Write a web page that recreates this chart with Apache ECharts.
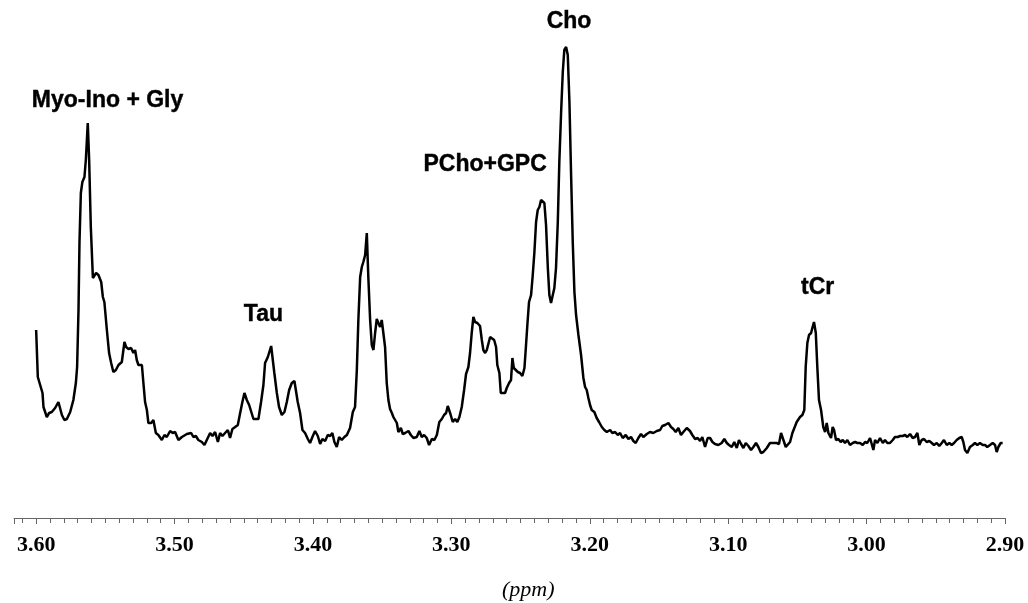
<!DOCTYPE html>
<html>
<head>
<meta charset="utf-8">
<title>Spectrum</title>
<script src="https://cdn.jsdelivr.net/npm/echarts@6/dist/echarts.min.js"></script>
<style>
	html, body { margin: 0; padding: 0; background: #fff; }
	#spectrum { width: 1028px; height: 603px; }
</style>
</head>
<body>
<div id="spectrum"></div>
<script>
// chemical shift (ppm)
var shiftPpm = [
	3.6000,3.5988,3.5971,3.5954,3.5947,3.5923,3.5906,3.5887,3.5863,3.5839,3.5827,3.5814,3.5796,3.5778,3.5754,3.5731,3.5713,3.5704,3.5694,3.5687,
	3.5677,3.5666,3.5651,3.5641,3.5627,3.5617,3.5605,3.5590,3.5579,3.5567,3.5550,3.5530,3.5518,3.5507,3.5489,3.5473,3.5458,3.5442,3.5424,3.5405,
	3.5381,3.5362,3.5350,3.5333,3.5314,3.5297,3.5285,3.5273,3.5261,3.5249,3.5236,3.5225,3.5213,3.5200,3.5189,3.5169,3.5153,3.5135,3.5117,3.5092,
	3.5073,3.5056,3.5032,3.5013,3.4996,3.4972,3.4947,3.4911,
	3.4900,3.4880,3.4864,3.4846,3.4828,3.4803,3.4784,3.4767,3.4743,3.4726,3.4707,3.4687,3.4671,3.4654,3.4635,3.4615,3.4599,3.4582,3.4562,3.4543,
	3.4526,3.4510,3.4495,3.4478,3.4461,3.4447,3.4430,3.4413,3.4394,3.4375,3.4358,3.4346,3.4326,3.4302,3.4293,3.4279,3.4261,3.4245,3.4225,3.4206,
	3.4189,3.4172,3.4153,3.4134,3.4122,3.4110,3.4093,3.4076,3.4057,3.4037,3.4021,3.4004,3.3985,3.3965,3.3948,3.3932,3.3912,3.3893,3.3876,3.3860,
	3.3845,3.3828,3.3811,3.3792,3.3773,
	3.3755,3.3732,3.3712,3.3696,3.3683,3.3672,3.3659,3.3647,3.3636,3.3623,3.3611,3.3600,3.3587,3.3575,3.3563,3.3551,3.3539,3.3527,3.3515,3.3503,
	3.3491,3.3479,3.3467,3.3455,3.3443,3.3430,3.3419,3.3407,3.3394,3.3383,3.3365,3.3351,3.3334,3.3310,3.3293,3.3274,3.3250,3.3231,3.3214,3.3197,
	3.3178,3.3161,3.3141,3.3123,3.3105,3.3087,3.3069,3.3053,3.3038,3.3026,3.3009,3.2990,3.2973,3.2957,3.2942,3.2925,3.2908,3.2894,3.2877,3.2865,
	3.2853,3.2841,3.2829,3.2812,3.2793,3.2780,3.2769,3.2756,3.2744,3.2733,3.2720,3.2708,3.2691,3.2677,3.2668,3.2653,3.2643,3.2629,3.2612,
	3.2600,3.2583,3.2569,3.2559,3.2549,3.2535,3.2520,3.2504,3.2487,3.2472,3.2462,3.2451,3.2439,3.2424,3.2412,3.2400,3.2388,3.2376,3.2364,3.2352,
	3.2340,3.2328,3.2316,3.2303,3.2292,3.2280,3.2267,3.2256,3.2244,3.2231,3.2220,3.2207,3.2195,3.2184,3.2171,3.2159,3.2147,3.2135,3.2123,3.2111,
	3.2099,3.2082,3.2063,3.2046,3.2034,3.2022,3.2010,3.1998,3.1986,3.1967,3.1950,3.1933,3.1913,3.1895,3.1877,3.1853,3.1837,3.1817,3.1798,3.1781,
	3.1762,3.1740,3.1721,3.1702,3.1685,3.1668,3.1649,3.1630,3.1613,3.1588,3.1565,3.1541,3.1516,
	3.1492,3.1476,3.1456,3.1432,3.1413,3.1396,3.1379,3.1360,3.1341,3.1324,3.1299,3.1276,3.1259,3.1239,3.1220,3.1203,3.1187,3.1167,3.1148,3.1131,
	3.1114,3.1095,3.1071,3.1047,3.1028,3.1010,3.0994,3.0974,3.0956,3.0938,3.0922,3.0907,3.0890,3.0873,3.0854,3.0835,3.0818,3.0799,3.0782,3.0763,
	3.0746,3.0721,3.0698,3.0674,3.0649,3.0633,3.0618,3.0601,3.0584,3.0570,3.0553,3.0536,3.0522,3.0505,3.0493,3.0481,3.0464,3.0450,3.0440,3.0428,
	3.0416,3.0401,3.0392,3.0380,3.0367,3.0356,3.0344,3.0329,3.0313,3.0300,3.0288,3.0276,
	3.0257,3.0245,3.0235,3.0221,3.0204,3.0187,3.0172,3.0156,3.0139,3.0120,3.0100,3.0083,3.0067,3.0047,3.0028,3.0011,2.9995,2.9975,2.9963,2.9951,
	2.9939,2.9922,2.9903,2.9883,2.9867,2.9850,2.9831,2.9811,2.9795,2.9775,2.9758,2.9739,2.9722,2.9706,2.9686,2.9667,2.9650,2.9633,2.9619,2.9602,
	2.9585,2.9566,2.9547,2.9529,2.9513,2.9493,2.9475,2.9457,2.9441,2.9421,2.9402,2.9385,2.9368,2.9349,2.9330,2.9313,2.9301,2.9289,2.9272,2.9253,
	2.9233,2.9217,2.9200,2.9181,2.9161,2.9144,2.9128,2.9108,2.9089,2.9072,2.9060,2.9048,2.9031,2.9017
];
// signal intensity (arbitrary units), same order as shiftPpm
var intensity = [
	188,141,133,125,111,101,105,106,110,116,115,103,98,99,106,118,135,151,208,275,
	325,336,341,358,395,358,291,240,239,245,243,236,221,216,188,165,155,146,148,153,
	156,176,171,169,170,165,168,158,153,155,153,135,116,108,95,95,98,85,83,78,
	83,81,87,85,86,78,81,84,
	85,85,81,82,78,76,73,78,85,82,86,76,85,82,85,88,80,89,91,93,
	105,116,125,118,113,114,99,99,99,116,133,155,161,172,171,145,125,111,103,106,
	116,128,135,137,138,116,105,88,85,79,75,81,87,82,74,79,77,83,82,85,
	76,71,81,78,81,
	83,90,106,111,148,198,241,251,256,263,285,241,198,173,168,185,199,198,191,198,
	200,171,135,118,109,105,101,100,95,86,90,84,85,87,83,80,81,87,81,83,
	80,73,79,78,83,96,99,103,105,112,105,96,99,96,101,111,128,144,151,165,
	185,201,196,195,192,178,168,165,168,170,181,181,178,171,153,145,125,123,125,
	130,135,138,160,150,148,146,145,142,150,170,193,216,223,243,266,296,308,311,318,
	320,315,293,250,223,215,214,230,250,296,356,406,446,468,471,463,416,343,276,226,
	203,183,163,140,131,128,120,113,108,106,100,96,91,88,86,88,85,86,83,85,
	80,83,79,81,77,75,80,84,81,84,86,85,87,
	88,92,93,95,91,89,86,90,83,86,90,87,83,79,80,77,81,71,80,80,
	76,74,73,75,79,75,73,71,76,70,78,74,70,75,72,68,71,75,71,65,
	66,70,75,75,75,74,85,78,71,69,76,85,83,96,98,101,103,108,151,175,
	183,185,190,196,185,151,118,108,91,86,95,85,
	80,91,88,78,79,76,78,75,78,73,75,76,75,75,73,76,75,80,78,68,
	78,75,80,75,78,75,75,78,81,81,82,82,83,81,84,80,81,85,73,78,
	79,76,77,75,73,75,72,75,78,73,75,73,75,78,80,81,76,68,65,71,
	73,75,73,75,73,73,71,73,75,73,66,71,75,75
];

// peak annotations
var peakNames = ['Myo-Ino + Gly', 'Tau', 'PCho+GPC', 'Cho', 'tCr'];
var peakPpm = [3.5484, 3.4358, 3.2756, 3.2150, 3.0354];
var peakLabelLevel = [417, 203, 353, 496, 230];

var main = {
	el: 'spectrum',
	init: function() {
		var chart = echarts.init(document.getElementById(this.el));
		chart.setOption(this.buildOption());
	},
	buildOption: function() {
		var lineData = [];
		for (var i = 0; i < shiftPpm.length; i++) {
			lineData.push([shiftPpm[i], intensity[i]]);
		}
		var labelData = [];
		for (var j = 0; j < peakNames.length; j++) {
			labelData.push({ name: peakNames[j], value: [peakPpm[j], peakLabelLevel[j]] });
		}
		return {
			backgroundColor: '#fff',
			animation: false,
			title: {
				text: '(ppm)',
				left: 502,
				top: 579,
				padding: 0,
				textStyle: {
					fontFamily: 'Liberation Serif',
					fontStyle: 'italic',
					fontWeight: 'normal',
					fontSize: 22,
					color: '#000'
				}
			},
			grid: { left: 14, right: 23, top: 40, bottom: 85 },
			xAxis: {
				type: 'value',
				inverse: true,
				min: 2.90,
				max: 3.616,
				interval: 0.1,
				splitLine: { show: false },
				axisLine: { lineStyle: { color: '#666', width: 1 } },
				axisTick: { length: 6, lineStyle: { color: '#666' } },
				minorTick: { show: true, splitNumber: 10, length: 5, lineStyle: { color: '#666' } },
				axisLabel: {
					showMaxLabel: false,
					margin: 16,
					fontFamily: 'Liberation Serif',
					fontWeight: 'bold',
					fontSize: 22,
					color: '#000',
					formatter: function(v) { return v.toFixed(2); }
				}
			},
			yAxis: {
				type: 'value',
				min: 0,
				max: 478,
				show: false
			},
			series: [
				{
					type: 'line',
					data: lineData,
					showSymbol: false,
					symbol: 'none',
					lineStyle: { color: '#000', width: 2.5 },
					silent: true
				},
				{
					type: 'scatter',
					data: labelData,
					symbolSize: 1,
					clip: false,
					itemStyle: { color: 'rgba(0,0,0,0)', opacity: 1 },
					label: {
						show: true,
						position: 'inside',
						formatter: '{b}',
						fontFamily: 'Liberation Sans',
						fontWeight: 'bold',
						fontSize: 23,
						color: '#000',
						opacity: 1,
						textBorderColor: '#000',
						textBorderWidth: 0.4
					},
					silent: true
				}
			]
		};
	}
};

main.init();
</script>
</body>
</html>
